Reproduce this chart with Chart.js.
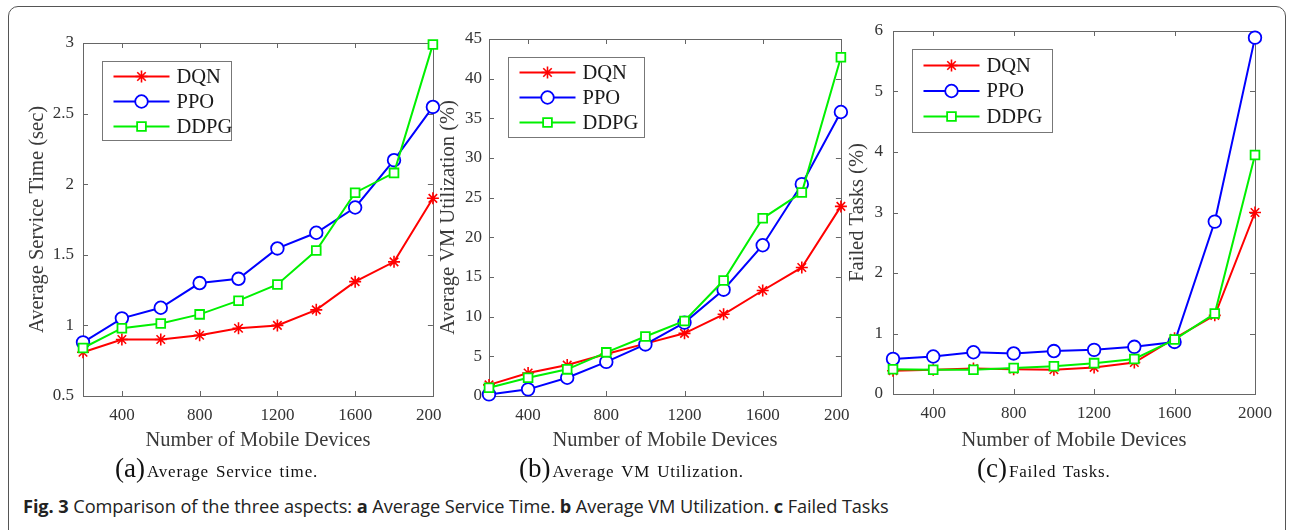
<!DOCTYPE html>
<html lang="en">
<head>
<meta charset="UTF-8">
<title>Fig. 3 Comparison of the three aspects</title>
<script src="https://cdn.jsdelivr.net/npm/chart.js@4.4.1/dist/chart.umd.min.js"></script>
<style>
  body { margin: 0; background: #fff; width: 1294px; height: 530px; overflow: hidden; position: relative; }
  .frame { position: absolute; left: 8px; top: 6px; width: 1276px; height: 560px; border: 1px solid #555; border-radius: 10px; }
  canvas.panel { position: absolute; top: 0; }
  .sub { position: absolute; top: 453px; font-family: 'Liberation Serif', serif; font-size: 17px; letter-spacing: 0.8px; word-spacing: 2px; line-height: 30px; color: #111; white-space: nowrap; }
  .sub .lab { font-size: 27px; letter-spacing: 0; margin-right: 2px; }
  .cap { position: absolute; left: 23px; top: 494px; font-family: 'Open Sans', sans-serif; font-size: 18.2px; line-height: 24px; letter-spacing: -0.08px; color: #222; white-space: nowrap; }
</style>
</head>
<body>
<div class="frame"></div>
<canvas id="chartA" class="panel" width="441" height="455" style="left:0px"></canvas>
<canvas id="chartB" class="panel" width="413" height="455" style="left:436px"></canvas>
<canvas id="chartC" class="panel" width="435" height="455" style="left:845px"></canvas>

<div class="sub" style="left:115px"><span class="lab">(a)</span>Average Service time.</div>
<div class="sub" style="left:519px"><span class="lab">(b)</span>Average VM Utilization.</div>
<div class="sub" style="left:977px"><span class="lab">(c)</span>Failed Tasks.</div>
<div class="cap"><b>Fig. 3</b> Comparison of the three aspects: <b>a</b> Average Service Time. <b>b</b> Average VM Utilization. <b>c</b> Failed Tasks</div>

<script>
// data
const devices = [200, 400, 600, 800, 1000, 1200, 1400, 1600, 1800, 2000];
const xTicks = [400, 800, 1200, 1600, 2000];

const serviceDQN  = [0.81, 0.90, 0.90, 0.93, 0.98, 1.00, 1.11, 1.31, 1.45, 1.90];
const servicePPO  = [0.88, 1.05, 1.125, 1.30, 1.33, 1.545, 1.656, 1.835, 2.17, 2.547];
const serviceDDPG = [0.84, 0.98, 1.014, 1.078, 1.175, 1.29, 1.53, 1.94, 2.08, 2.99];
const serviceTicks = [0.5, 1, 1.5, 2, 2.5, 3];

const vmDQN  = [1.4, 2.9, 3.9, 5.3, 6.6, 7.9, 10.3, 13.3, 16.2, 23.9];
const vmPPO  = [0.2, 0.84, 2.3, 4.3, 6.5, 9.25, 13.4, 19.0, 26.7, 35.8];
const vmDDPG = [1.05, 2.3, 3.36, 5.5, 7.5, 9.46, 14.55, 22.4, 25.65, 42.7];
const vmTicks = [0, 5, 10, 15, 20, 25, 30, 35, 40, 45];

const failedDQN  = [0.385, 0.40, 0.42, 0.41, 0.40, 0.44, 0.52, 0.92, 1.30, 3.0];
const failedPPO  = [0.58, 0.62, 0.69, 0.67, 0.71, 0.73, 0.78, 0.86, 2.85, 5.89];
const failedDDPG = [0.41, 0.40, 0.40, 0.43, 0.46, 0.51, 0.58, 0.90, 1.33, 3.95];
const failedTicks = [0, 1, 2, 3, 4, 5, 6];

const seriesNames = ['DQN', 'PPO', 'DDPG'];
const seriesColors = ['#ff0000', '#0000ff', '#00f000'];
const seriesMarkers = ['star', 'circle', 'rect'];

const serif = 'Liberation Serif';

// box around the plot with inward ticks on all four sides
const boxPlugin = {
  id: 'matlabBox',
  beforeDatasetsDraw(chart) {
    const { ctx, chartArea: a, scales } = chart;
    const tl = 5;
    ctx.save();
    ctx.strokeStyle = '#666';
    ctx.lineWidth = 1;
    ctx.strokeRect(Math.round(a.left) + 0.5, Math.round(a.top) + 0.5,
      Math.round(a.right - a.left), Math.round(a.bottom - a.top));
    ctx.beginPath();
    scales.x.ticks.forEach(t => {
      const px = Math.round(scales.x.getPixelForValue(t.value)) + 0.5;
      ctx.moveTo(px, a.bottom); ctx.lineTo(px, a.bottom - tl);
      ctx.moveTo(px, a.top); ctx.lineTo(px, a.top + tl);
    });
    scales.y.ticks.forEach(t => {
      const py = Math.round(scales.y.getPixelForValue(t.value)) + 0.5;
      ctx.moveTo(a.left, py); ctx.lineTo(a.left + tl, py);
      ctx.moveTo(a.right, py); ctx.lineTo(a.right - tl, py);
    });
    ctx.stroke();
    ctx.restore();
  }
};

// legend box in the upper left corner of the plot
const legendPlugin = {
  id: 'boxLegend',
  afterDatasetsDraw(chart, args, opts) {
    const { ctx, chartArea: a } = chart;
    const x0 = Math.round(a.left + 19) + 0.5;
    const y0 = Math.round(a.top + 18) + 0.5;
    ctx.save();
    ctx.fillStyle = '#fff';
    ctx.fillRect(x0, y0, opts.w, opts.h);
    ctx.strokeStyle = '#777';
    ctx.lineWidth = 1;
    ctx.strokeRect(x0, y0, opts.w, opts.h);
    chart.data.datasets.forEach((ds, i) => {
      const y = y0 + opts.first + i * opts.gap;
      ctx.strokeStyle = ds.borderColor;
      ctx.lineWidth = 2;
      ctx.beginPath();
      ctx.moveTo(x0 + 11, y);
      ctx.lineTo(x0 + 67, y);
      ctx.stroke();
      ctx.fillStyle = ds.pointBackgroundColor;
      ctx.strokeStyle = ds.borderColor;
      ctx.lineWidth = ds.pointBorderWidth;
      Chart.helpers.drawPoint(ctx, { pointStyle: ds.pointStyle, radius: ds.pointRadius, rotation: 0, borderWidth: ds.pointBorderWidth }, x0 + 39, y);
      ctx.fillStyle = '#1a1a1a';
      ctx.font = '20.5px "' + serif + '"';
      ctx.textBaseline = 'middle';
      ctx.textAlign = 'left';
      ctx.fillText(ds.label, x0 + 74, y + 1);
    });
    ctx.restore();
  }
};

function makeChart(id, p) {
  const datasets = p.series.map((vals, i) => ({
    label: seriesNames[i],
    data: devices.map((d, j) => ({ x: d, y: vals[j] })),
    borderColor: seriesColors[i],
    backgroundColor: seriesColors[i],
    borderWidth: 2,
    pointStyle: seriesMarkers[i],
    pointRadius: seriesMarkers[i] === 'circle' ? 6.3 : (seriesMarkers[i] === 'rect' ? 6.2 : 6),
    pointBorderWidth: seriesMarkers[i] === 'star' ? 1.6 : 1.8,
    pointBackgroundColor: '#fff',
    pointBorderColor: seriesColors[i],
    tension: 0,
    clip: false,
    order: 2 - i
  }));

  return new Chart(document.getElementById(id), {
    type: 'line',
    data: { datasets },
    options: {
      responsive: false,
      animation: false,
      events: [],
      layout: { padding: { top: p.top, right: p.right, left: 0, bottom: 0 } },
      plugins: {
        legend: { display: false },
        tooltip: { enabled: false },
        boxLegend: p.legend
      },
      scales: {
        x: {
          type: 'linear',
          min: 200,
          max: 2000,
          grid: { display: false, drawTicks: false },
          border: { display: false },
          afterBuildTicks: s => { s.ticks = xTicks.map(v => ({ value: v })); },
          afterFit: s => { s.height = p.xAxisHeight; s.paddingLeft = 0; s.paddingRight = 0; },
          ticks: {
            color: '#333',
            font: { family: serif, size: 17 },
            padding: 9,
            maxRotation: 0,
            autoSkip: false,
            callback: v => String(v)
          },
          title: {
            display: true,
            text: 'Number of Mobile Devices',
            color: '#3a3a3a',
            font: { family: serif, size: 20.5 },
            padding: { top: 0, bottom: 2 }
          }
        },
        y: {
          type: 'linear',
          min: p.yTicks[0],
          max: p.yTicks[p.yTicks.length - 1],
          grid: { display: false, drawTicks: false },
          border: { display: false },
          afterBuildTicks: s => { s.ticks = p.yTicks.map(v => ({ value: v })); },
          afterFit: s => { s.width = p.yAxisWidth; s.paddingTop = 0; s.paddingBottom = 0; },
          ticks: {
            color: '#333',
            font: { family: serif, size: 17 },
            padding: p.yTickPad,
            autoSkip: false,
            callback: v => String(v)
          },
          title: {
            display: true,
            text: p.yTitle,
            color: '#3a3a3a',
            font: { family: serif, size: 20.5 },
            padding: { top: p.yTitlePad, bottom: 0 }
          }
        }
      }
    },
    plugins: [boxPlugin, legendPlugin]
  });
}

makeChart('chartA', {
  series: [serviceDQN, servicePPO, serviceDDPG],
  yTicks: serviceTicks,
  yTitle: 'Average Service Time (sec)',
  top: 43, right: 4, yAxisWidth: 83, xAxisHeight: 59, yTickPad: 9, yTitlePad: 25,
  legend: { w: 129, h: 79, first: 15, gap: 25 }
});

makeChart('chartB', {
  series: [vmDQN, vmPPO, vmDDPG],
  yTicks: vmTicks,
  yTitle: 'Average VM Utilization (%)',
  top: 39, right: 2, yAxisWidth: 53, xAxisHeight: 59, yTickPad: 7, yTitlePad: 0,
  legend: { w: 136, h: 80, first: 15, gap: 25 }
});

makeChart('chartC', {
  series: [failedDQN, failedPPO, failedDDPG],
  yTicks: failedTicks,
  yTitle: 'Failed Tasks (%)',
  top: 31, right: 25, yAxisWidth: 48, xAxisHeight: 61, yTickPad: 10, yTitlePad: 0,
  legend: { w: 140, h: 83, first: 16, gap: 25.5 }
});
</script>
</body>
</html>
